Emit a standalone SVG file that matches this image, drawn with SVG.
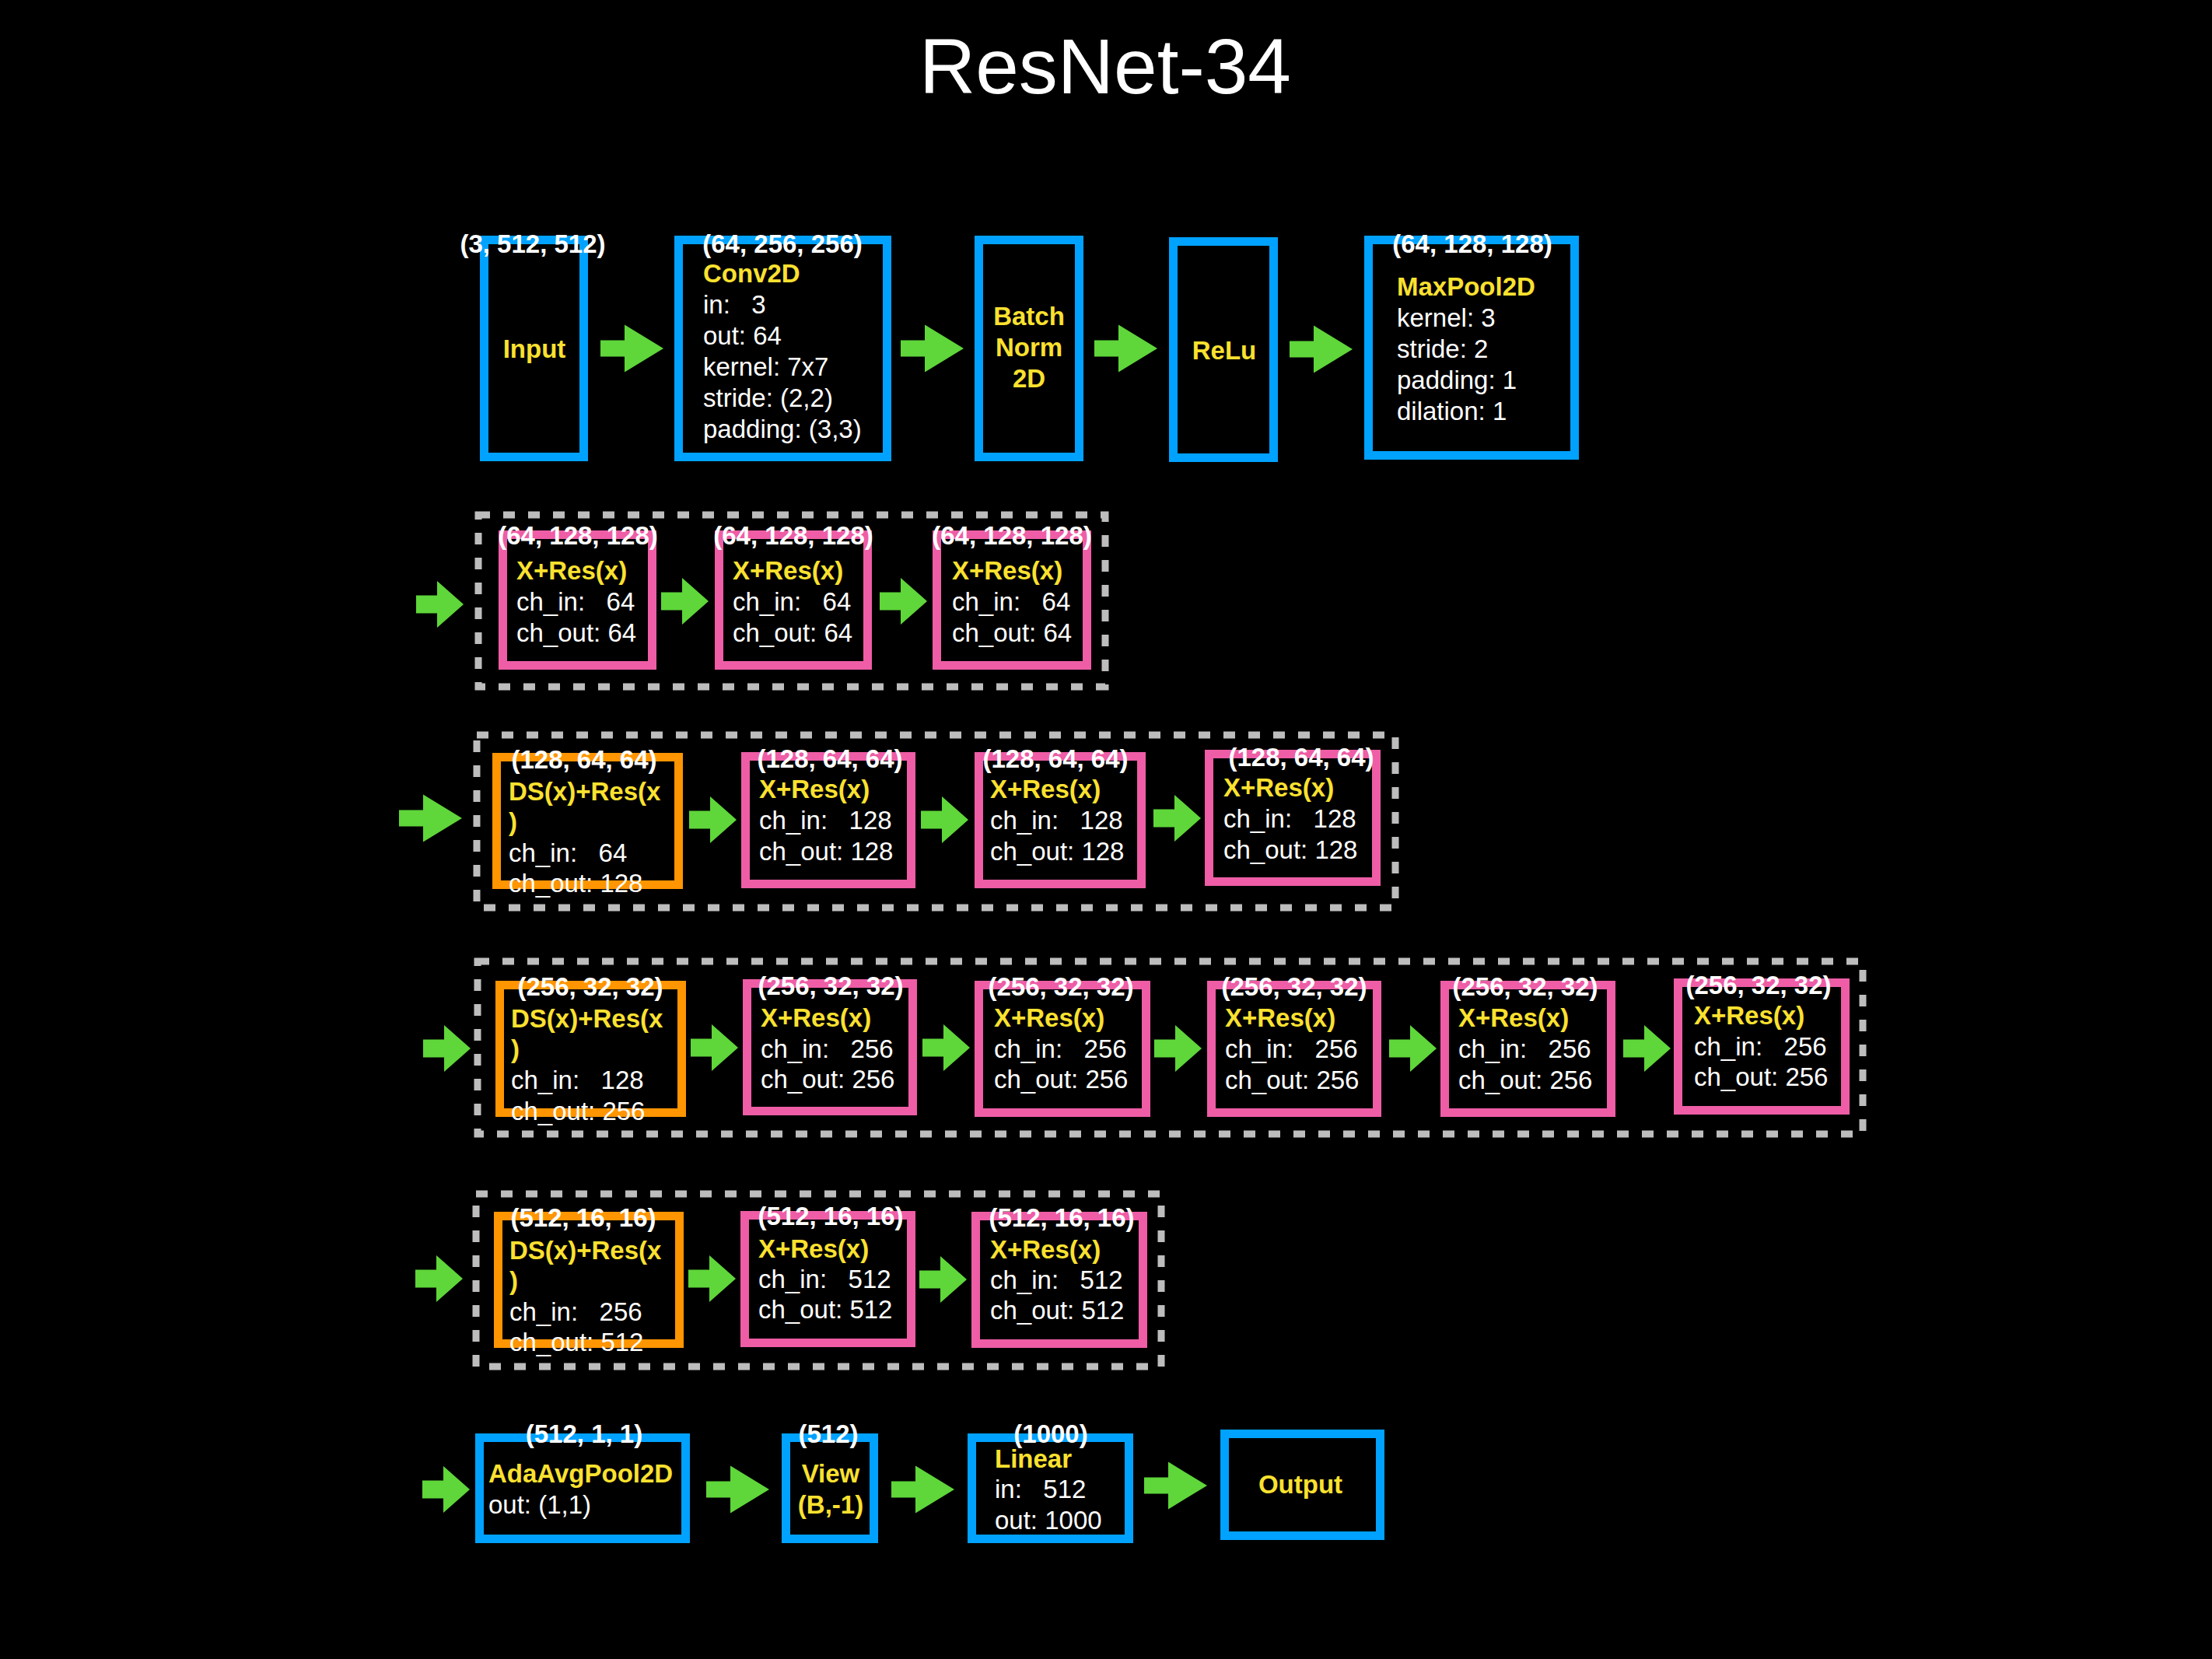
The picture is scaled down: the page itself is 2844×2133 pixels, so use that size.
<svg xmlns="http://www.w3.org/2000/svg" xmlns:xlink="http://www.w3.org/1999/xlink" width="2844" height="2133" viewBox="0 0 2844 2133">
<style>
.bx{fill:none;stroke-width:11}
.blue{stroke:#00A2FF}
.pink{stroke:#EE5DA6}
.orange{stroke:#FF9500}
.frame{fill:none;stroke:#BDBDBD;stroke-width:9;stroke-dasharray:15 17}
text{font-family:"Liberation Sans",Arial,Helvetica,sans-serif;font-size:33px;white-space:pre}
.dim{font-weight:bold;fill:#FFFFFF;text-anchor:middle}
.nm{font-weight:bold;fill:#FBE12F}
.c{text-anchor:middle}
.pr{fill:#FFFFFF}
.ar{fill:#5FD63A}
.title{font-size:100px;fill:#FFFFFF;text-anchor:middle}
</style>
<defs>
<path id="arL" d="M0,-10.5H31V-30.5L81,0L31,30.5V10.5H0Z"/>
<path id="arS" d="M0,-11.5H27V-30L61,0L27,30V11.5H0Z"/>
</defs>
<rect x="0" y="0" width="2844" height="2133" fill="#000000"/>
<text class="title" x="1421" y="120">ResNet-34</text>

<g id="frames">
<rect class="frame" x="615" y="662" width="806" height="221"/>
<rect class="frame" x="613" y="945" width="1181" height="222"/>
<rect class="frame" x="614" y="1236" width="1781" height="222"/>
<rect class="frame" x="612" y="1535" width="881" height="222"/>
</g>

<g id="connectors" class="ar">
<use xlink:href="#arL" x="772" y="448"/>
<use xlink:href="#arL" x="1158" y="448"/>
<use xlink:href="#arL" x="1407" y="448"/>
<use xlink:href="#arL" x="1658" y="449"/>
<use xlink:href="#arS" x="535" y="777"/>
<use xlink:href="#arS" x="850" y="773"/>
<use xlink:href="#arS" x="1131" y="773"/>
<use xlink:href="#arL" x="513" y="1052"/>
<use xlink:href="#arS" x="886" y="1054"/>
<use xlink:href="#arS" x="1184" y="1054"/>
<use xlink:href="#arS" x="1483" y="1052"/>
<use xlink:href="#arS" x="544" y="1348"/>
<use xlink:href="#arS" x="888" y="1347"/>
<use xlink:href="#arS" x="1186" y="1347"/>
<use xlink:href="#arS" x="1484" y="1348"/>
<use xlink:href="#arS" x="1786" y="1348"/>
<use xlink:href="#arS" x="2087" y="1348"/>
<use xlink:href="#arS" x="534" y="1644"/>
<use xlink:href="#arS" x="885" y="1644"/>
<use xlink:href="#arS" x="1182" y="1645"/>
<use xlink:href="#arS" x="543" y="1915"/>
<use xlink:href="#arL" x="908" y="1915"/>
<use xlink:href="#arL" x="1146" y="1915"/>
<use xlink:href="#arL" x="1471" y="1910"/>
</g>

<g id="input">
<rect class="bx blue" x="622.5" y="308.5" width="128" height="279"/>
<text class="dim" x="685" y="325">(3, 512, 512)</text>
<text class="nm c" x="687" y="460">Input</text>
</g>
<g id="conv2d">
<rect class="bx blue" x="872.5" y="308.5" width="268" height="279"/>
<text class="dim" x="1006" y="325">(64, 256, 256)</text>
<text class="nm" x="904" y="363">Conv2D</text>
<text class="pr" x="904" y="403">in:   3</text>
<text class="pr" x="904" y="443">out: 64</text>
<text class="pr" x="904" y="483">kernel: 7x7</text>
<text class="pr" x="904" y="523">stride: (2,2)</text>
<text class="pr" x="904" y="563">padding: (3,3)</text>
</g>
<g id="batchnorm">
<rect class="bx blue" x="1258.5" y="308.5" width="129" height="279"/>
<text class="nm c" x="1323" y="418">Batch</text>
<text class="nm c" x="1323" y="458">Norm</text>
<text class="nm c" x="1323" y="498">2D</text>
</g>
<g id="relu">
<rect class="bx blue" x="1508.5" y="310.5" width="129" height="278"/>
<text class="nm c" x="1574" y="462">ReLu</text>
</g>
<g id="maxpool">
<rect class="bx blue" x="1759.5" y="308.5" width="265" height="277"/>
<text class="dim" x="1893" y="325">(64, 128, 128)</text>
<text class="nm" x="1796" y="380">MaxPool2D</text>
<text class="pr" x="1796" y="420">kernel: 3</text>
<text class="pr" x="1796" y="460">stride: 2</text>
<text class="pr" x="1796" y="500">padding: 1</text>
<text class="pr" x="1796" y="540">dilation: 1</text>
</g>

<g id="l1b1">
<rect class="bx pink" x="646.5" y="687.5" width="192" height="168"/>
<text class="dim" x="743" y="700">(64, 128, 128)</text>
<text class="nm" x="664" y="745">X+Res(x)</text>
<text class="pr" x="664" y="785">ch_in:   64</text>
<text class="pr" x="664" y="825">ch_out: 64</text>
</g>
<g id="l1b2">
<rect class="bx pink" x="924.5" y="687.5" width="191" height="168"/>
<text class="dim" x="1020" y="700">(64, 128, 128)</text>
<text class="nm" x="942" y="745">X+Res(x)</text>
<text class="pr" x="942" y="785">ch_in:   64</text>
<text class="pr" x="942" y="825">ch_out: 64</text>
</g>
<g id="l1b3">
<rect class="bx pink" x="1204.5" y="687.5" width="193" height="168"/>
<text class="dim" x="1301" y="700">(64, 128, 128)</text>
<text class="nm" x="1224" y="745">X+Res(x)</text>
<text class="pr" x="1224" y="785">ch_in:   64</text>
<text class="pr" x="1224" y="825">ch_out: 64</text>
</g>

<g id="l2b1">
<rect class="bx orange" x="638.5" y="973.5" width="234" height="164"/>
<text class="dim" x="751" y="988">(128, 64, 64)</text>
<text class="nm" x="654" y="1029">DS(x)+Res(x</text>
<text class="nm" x="654" y="1068">)</text>
<text class="pr" x="654" y="1108">ch_in:   64</text>
<text class="pr" x="654" y="1147">ch_out: 128</text>
</g>
<g id="l2b2">
<rect class="bx pink" x="958.5" y="972.5" width="213" height="164"/>
<text class="dim" x="1067" y="987">(128, 64, 64)</text>
<text class="nm" x="976" y="1026">X+Res(x)</text>
<text class="pr" x="976" y="1066">ch_in:   128</text>
<text class="pr" x="976" y="1106">ch_out: 128</text>
</g>
<g id="l2b3">
<rect class="bx pink" x="1258.5" y="972.5" width="209" height="164"/>
<text class="dim" x="1357" y="987">(128, 64, 64)</text>
<text class="nm" x="1273" y="1026">X+Res(x)</text>
<text class="pr" x="1273" y="1066">ch_in:   128</text>
<text class="pr" x="1273" y="1106">ch_out: 128</text>
</g>
<g id="l2b4">
<rect class="bx pink" x="1554.5" y="969.5" width="215" height="164"/>
<text class="dim" x="1673" y="985">(128, 64, 64)</text>
<text class="nm" x="1573" y="1024">X+Res(x)</text>
<text class="pr" x="1573" y="1064">ch_in:   128</text>
<text class="pr" x="1573" y="1104">ch_out: 128</text>
</g>

<g id="l3b1">
<rect class="bx orange" x="642.5" y="1266.5" width="234" height="164"/>
<text class="dim" x="759" y="1280">(256, 32, 32)</text>
<text class="nm" x="657" y="1321">DS(x)+Res(x</text>
<text class="nm" x="657" y="1360">)</text>
<text class="pr" x="657" y="1400">ch_in:   128</text>
<text class="pr" x="657" y="1440">ch_out: 256</text>
</g>
<g id="l3b2">
<rect class="bx pink" x="960.5" y="1264.5" width="213" height="164"/>
<text class="dim" x="1068" y="1279">(256, 32, 32)</text>
<text class="nm" x="978" y="1320">X+Res(x)</text>
<text class="pr" x="978" y="1360">ch_in:   256</text>
<text class="pr" x="978" y="1399">ch_out: 256</text>
</g>
<g id="l3b3">
<rect class="bx pink" x="1258.5" y="1266.5" width="215" height="164"/>
<text class="dim" x="1364" y="1280">(256, 32, 32)</text>
<text class="nm" x="1278" y="1320">X+Res(x)</text>
<text class="pr" x="1278" y="1360">ch_in:   256</text>
<text class="pr" x="1278" y="1399">ch_out: 256</text>
</g>
<g id="l3b4">
<rect class="bx pink" x="1557.5" y="1266.5" width="213" height="164"/>
<text class="dim" x="1664" y="1280">(256, 32, 32)</text>
<text class="nm" x="1575" y="1320">X+Res(x)</text>
<text class="pr" x="1575" y="1360">ch_in:   256</text>
<text class="pr" x="1575" y="1400">ch_out: 256</text>
</g>
<g id="l3b5">
<rect class="bx pink" x="1857.5" y="1266.5" width="214" height="164"/>
<text class="dim" x="1961" y="1280">(256, 32, 32)</text>
<text class="nm" x="1875" y="1320">X+Res(x)</text>
<text class="pr" x="1875" y="1360">ch_in:   256</text>
<text class="pr" x="1875" y="1400">ch_out: 256</text>
</g>
<g id="l3b6">
<rect class="bx pink" x="2157.5" y="1263.5" width="215" height="164"/>
<text class="dim" x="2261" y="1278">(256, 32, 32)</text>
<text class="nm" x="2178" y="1317">X+Res(x)</text>
<text class="pr" x="2178" y="1357">ch_in:   256</text>
<text class="pr" x="2178" y="1396">ch_out: 256</text>
</g>

<g id="l4b1">
<rect class="bx orange" x="640.5" y="1563.5" width="233" height="164"/>
<text class="dim" x="750" y="1577">(512, 16, 16)</text>
<text class="nm" x="655" y="1619">DS(x)+Res(x</text>
<text class="nm" x="655" y="1658">)</text>
<text class="pr" x="655" y="1698">ch_in:   256</text>
<text class="pr" x="655" y="1737">ch_out: 512</text>
</g>
<g id="l4b2">
<rect class="bx pink" x="957.5" y="1562.5" width="214" height="164"/>
<text class="dim" x="1068" y="1575">(512, 16, 16)</text>
<text class="nm" x="975" y="1617">X+Res(x)</text>
<text class="pr" x="975" y="1656">ch_in:   512</text>
<text class="pr" x="975" y="1695">ch_out: 512</text>
</g>
<g id="l4b3">
<rect class="bx pink" x="1254.5" y="1563.5" width="215" height="164"/>
<text class="dim" x="1365" y="1577">(512, 16, 16)</text>
<text class="nm" x="1273" y="1618">X+Res(x)</text>
<text class="pr" x="1273" y="1657">ch_in:   512</text>
<text class="pr" x="1273" y="1696">ch_out: 512</text>
</g>

<g id="avgpool">
<rect class="bx blue" x="616.5" y="1848.5" width="265" height="130"/>
<text class="dim" x="751" y="1855">(512, 1, 1)</text>
<text class="nm" x="628" y="1906">AdaAvgPool2D</text>
<text class="pr" x="628" y="1946">out: (1,1)</text>
</g>
<g id="view">
<rect class="bx blue" x="1010.5" y="1848.5" width="113" height="130"/>
<text class="dim" x="1065" y="1855">(512)</text>
<text class="nm c" x="1068" y="1906">View</text>
<text class="nm c" x="1068" y="1946">(B,-1)</text>
</g>
<g id="linear">
<rect class="bx blue" x="1249.5" y="1848.5" width="202" height="130"/>
<text class="dim" x="1351" y="1855">(1000)</text>
<text class="nm" x="1279" y="1887">Linear</text>
<text class="pr" x="1279" y="1926">in:   512</text>
<text class="pr" x="1279" y="1966">out: 1000</text>
</g>
<g id="output">
<rect class="bx blue" x="1574.5" y="1843.5" width="200" height="131"/>
<text class="nm c" x="1672" y="1920">Output</text>
</g>
</svg>
